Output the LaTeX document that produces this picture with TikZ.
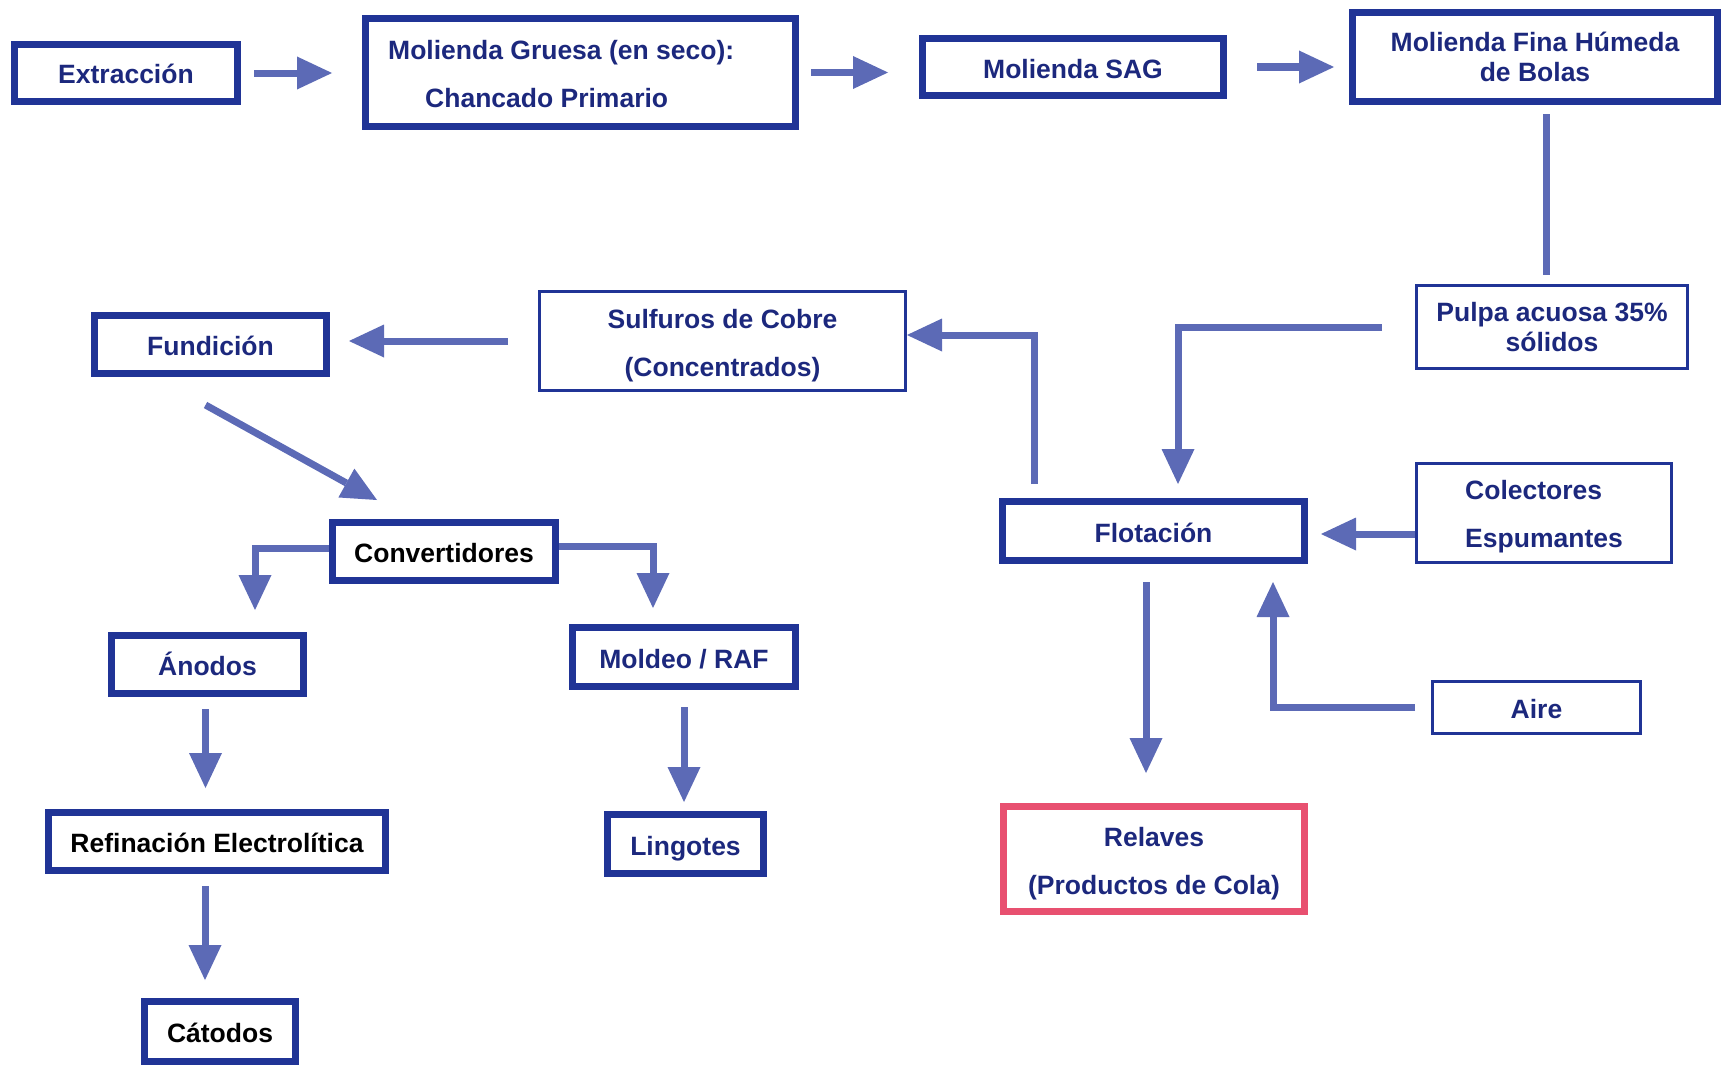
\documentclass[tikz,border=0pt]{standalone}
\usepackage{fontspec}
\setmainfont{Liberation Sans}
\usetikzlibrary{arrows.meta,calc}
\definecolor{boxblue}{RGB}{32,52,150}
\definecolor{txtblue}{RGB}{28,40,125}
\definecolor{flowblue}{RGB}{92,106,182}
\definecolor{tailred}{RGB}{232,80,112}

\begin{document}
\begin{tikzpicture}[x=1pt,y=-1pt,
  every node/.style={font=\fontsize{26.5}{30}\selectfont\bfseries, text=txtblue,
                     inner sep=0pt, align=center},
  oneline/.style={text height=22pt, text depth=0pt},
  heavy/.style={draw=boxblue, line width=7pt},
  light/.style={draw=boxblue, line width=3pt},
  tailbox/.style={draw=tailred, line width=7pt},
  flow/.style={draw=flowblue, line width=7pt, line join=miter,
               -{Triangle[width=33pt,length=35pt,line width=0pt]}},
  pipe/.style={draw=flowblue, line width=7pt}]
\useasboundingbox (0,0) rectangle (1723,1065);

% process boxes
\node[heavy, oneline, minimum width=223pt, minimum height=57pt] (ext) at (126,73) {Extracción};
\node[heavy, minimum width=430pt, minimum height=108pt] (gru) at (580.5,72.5) {};
\node[anchor=west, align=left] (grutxt) at (388,74) {Molienda Gruesa (en seco):\\[18pt]\hspace*{37pt}Chancado Primario};
\node[heavy, oneline, minimum width=301pt, minimum height=57pt] (sag) at (1073,67) {Molienda SAG};
\node[heavy, minimum width=365pt, minimum height=89pt] (fina) at (1535,57) {Molienda Fina Húmeda\\de Bolas};
\node[light, minimum width=271pt, minimum height=83pt] (pulpa) at (1552,327) {Pulpa acuosa 35\%\\sólidos};
\node[light, minimum width=366pt, minimum height=99pt] (sulf) at (722.5,341) {};
\node (sulftxt) at (722.5,345.4) {Sulfuros de Cobre\\[18pt](Concentrados)};
\node[heavy, oneline, minimum width=232pt, minimum height=58pt] (fund) at (210.5,344.5) {Fundición};
\node[heavy, oneline, minimum width=223pt, minimum height=58pt, text=black] (conv) at (444,551.5) {Convertidores};
\node[heavy, oneline, minimum width=192pt, minimum height=58pt] (anod) at (207.5,664.5) {Ánodos};
\node[heavy, oneline, minimum width=223pt, minimum height=59pt] (mold) at (684,657) {Moldeo / RAF};
\node[heavy, oneline, minimum width=337pt, minimum height=58pt, text=black] (refi) at (217,841.5) {Refinación Electrolítica};
\node[heavy, oneline, minimum width=156pt, minimum height=59pt] (ling) at (685.5,844) {Lingotes};
\node[heavy, oneline, minimum width=151pt, minimum height=60pt, text=black] (cat) at (220,1031.5) {Cátodos};
\node[heavy, oneline, minimum width=302pt, minimum height=59pt] (flot) at (1153.5,531) {Flotación};
\node[light, minimum width=255pt, minimum height=99pt] (col) at (1544,513) {};
\node[align=left] (coltxt) at (1544,516.3) {Colectores\\[18pt]Espumantes};
\node[light, oneline, minimum width=208pt, minimum height=52pt] (aire) at (1536.5,707.5) {Aire};
\node[tailbox, minimum width=301pt, minimum height=105pt] (rel) at (1154,859) {};
\node (reltxt) at (1154,863.4) {Relaves\\[18pt](Productos de Cola)};

% main line
\draw[flow, shorten <=13pt, shorten >=30pt] (ext.east) -- (ext.east -| gru.west);
\draw[flow, shorten <=12pt, shorten >=31pt] (gru.east) -- (gru.east -| sag.west);
\draw[flow, shorten <=30pt, shorten >=15pt] (sag.east) -- (sag.east -| fina.west);
\draw[pipe, shorten <=9pt, shorten >=9pt] ([xshift=11pt]fina.south) -- ([xshift=11pt]fina.south |- pulpa.north);
\draw[flow, shorten <=33pt, shorten >=14pt] (pulpa.west) -| ([xshift=24.5pt]flot.north);

% flotation inputs and outputs
\draw[flow, shorten <=14pt] ([xshift=-119.5pt]flot.north) |- ([yshift=6pt]sulf.east);
\draw[flow, shorten >=13pt] ([yshift=-21pt]col.west) -- ([yshift=-21pt]col.west -| flot.east);
\draw[flow, shorten <=16pt, shorten >=18pt] (aire.west) -| ([xshift=119.5pt]flot.south);
\draw[flow, shorten <=18pt, shorten >=30pt] ([xshift=-7.5pt]flot.south) -- ([xshift=-7.5pt]flot.south |- rel.north);

% smelting and refining
\draw[flow, shorten <=30pt, shorten >=19pt] (sulf.west) -- (sulf.west -| fund.east);
\draw[flow] ([shift={(-5,28)}]fund.south) -- ([shift={(-67,-19)}]conv.north);
\draw[flow] ([yshift=3.5pt]conv.west) -| ([xshift=47.5pt,yshift=22pt]anod.north);
\draw[flow, shorten >=16pt] ([yshift=5.5pt]conv.east) -| ([xshift=-31pt]mold.north);
\draw[flow, shorten <=12pt, shorten >=21pt] ([xshift=-2pt]anod.south) -- ([xshift=-2pt]anod.south |- refi.north);
\draw[flow, shorten <=12pt, shorten >=18pt] ([xshift=-12pt]refi.south) -- ([xshift=-12pt]refi.south |- cat.north);
\draw[flow, shorten <=17pt, shorten >=9pt] (mold.south) -- (mold.south |- ling.north);
\end{tikzpicture}
\end{document}
